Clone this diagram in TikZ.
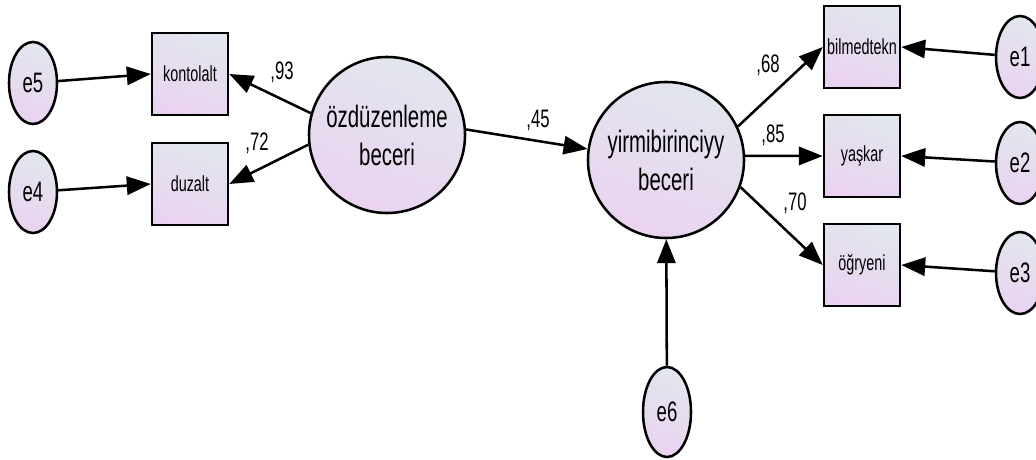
\documentclass[tikz,border=0pt]{standalone}
\usepackage{fontspec}
\setmainfont{Liberation Sans}
\newfontfamily\amosfont[FakeStretch=0.66]{Liberation Sans}
\usetikzlibrary{arrows.meta,positioning,shapes.geometric}
\definecolor{AMOSleft}{HTML}{E2E6EE}
\definecolor{AMOSright}{HTML}{EAD3F0}
\tikzset{
  sem/fillshade/.style={left color=AMOSleft, right color=AMOSright, shading angle=-20},
  sem/latent/.style={draw, circle, line width=1.8pt, sem/fillshade, minimum size=3.9cm, inner sep=0pt, align=center, font=\amosfont\fontsize{22}{27}\selectfont},
  sem/error/.style={draw, ellipse, line width=1.8pt, sem/fillshade, minimum width=1.2cm, minimum height=2.05cm, inner sep=0pt, font=\amosfont\fontsize{20}{22}\selectfont},
  sem/observed/.style={draw, rectangle, line width=1.8pt, sem/fillshade, minimum width=1.9cm, minimum height=2.05cm, inner sep=0pt, font=\amosfont\fontsize{15.5}{17}\selectfont},
  sem/path/.style={line width=1.8pt, -{Triangle[length=17pt,width=13pt]}},
  sem/coef/.style={font=\amosfont\fontsize{18}{20}\selectfont, inner sep=0pt}
}

\begin{document}
\begin{tikzpicture}[x=0.025cm,y=-0.025cm]
    \useasboundingbox (0,0) rectangle (1036,459);
    % left block
    \node[sem/error] (e5) at (33,83) {e5};
    \node[sem/error] (e4) at (33,192) {e4};
    \node[sem/observed] (kontolalt) at (190,74) {kontolalt};
    \node[sem/observed] (duzalt) at (190,184) {duzalt};
    \node[sem/latent] (ozduz) at (387,135) {özdüzenleme\\beceri};
    % right block
    \node[sem/latent] (yirmi) at (666,160) {yirmibirinciyy\\beceri};
    \node[sem/observed] (bilmedtekn) at (862,47) {bilmedtekn};
    \node[sem/observed] (yaskar) at (862,156) {yaşkar};
    \node[sem/observed] (ogryeni) at (862,265) {öğryeni};
    \node[sem/error] (e1) at (1020,57) {e1};
    \node[sem/error] (e2) at (1020,163) {e2};
    \node[sem/error] (e3) at (1020,273) {e3};
    \node[sem/error,minimum height=2.25cm] (e6) at (667,412) {e6};
    % paths
    \draw[sem/path] (e5) -- (kontolalt.west);
    \draw[sem/path] (e4) -- (duzalt.west);
    \draw[sem/path] (ozduz.164) -- (kontolalt.east);
    \draw[sem/path] (ozduz.187) -- (duzalt.east);
    \draw[sem/path] (ozduz.4) -- (yirmi.172);
    \draw[sem/path] (yirmi.25) -- (bilmedtekn.west);
    \draw[sem/path] (yirmi.3) -- (yaskar.west);
    \draw[sem/path] (yirmi.-20) -- (ogryeni.west);
    \draw[sem/path] (e1) -- (bilmedtekn.east);
    \draw[sem/path] (e2) -- (yaskar.east);
    \draw[sem/path] (e3) -- (ogryeni.east);
    \draw[sem/path] (e6) -- (yirmi);
    % coefficients
    \node[sem/coef] (c93) at (282,72) {,93};
    \node[sem/coef] (c72) at (257,143) {,72};
    \node[sem/coef] (c45) at (538,120) {,45};
    \node[sem/coef] (c68) at (768,65) {,68};
    \node[sem/coef] (c85) at (773,135) {,85};
    \node[sem/coef] (c70) at (795,203) {,70};
\end{tikzpicture}
\end{document}
